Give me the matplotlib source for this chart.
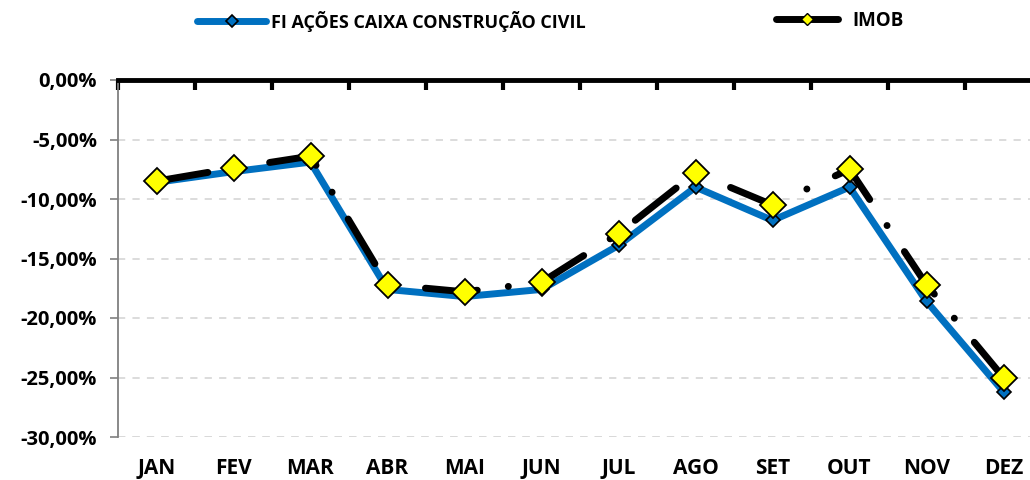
import matplotlib.pyplot as plt
from matplotlib.lines import Line2D
from matplotlib.ticker import FuncFormatter

meses = ['JAN', 'FEV', 'MAR', 'ABR', 'MAI', 'JUN', 'JUL', 'AGO', 'SET', 'OUT', 'NOV', 'DEZ']
fundo = [-8.6, -7.7, -6.9, -17.6, -18.2, -17.6, -13.9, -9.0, -11.8, -9.0, -18.6, -26.2]
imob = [-8.5, -7.4, -6.4, -17.2, -17.8, -17.0, -12.9, -7.8, -10.5, -7.5, -17.2, -25.0]

plt.rcParams['font.family'] = ['Open Sans', 'DejaVu Sans']
plt.rcParams['font.weight'] = 'bold'

fig = plt.figure(figsize=(10.3, 4.8), dpi=100)
ax = fig.add_axes([118 / 1030, 1 - 437 / 480, 924 / 1030, 357 / 480])

x = list(range(1, len(meses) + 1))
azul = '#0070C0'

ax.plot(x, fundo, color=azul, lw=5, marker='D', ms=7, mfc=azul, mec='black', mew=1.2,
        solid_joinstyle='round', zorder=3, clip_on=False)
ax.plot(x, imob, color='black', lw=5, dashes=[7.5, 4.5, 0.01, 4.5], dash_capstyle='round',
        zorder=4, clip_on=False)
ax.plot(x, imob, ls='none', marker='D', ms=13, mfc='#FFFF00', mec='black', mew=1.3,
        zorder=5, clip_on=False)

ax.set_xlim(0.5, 12.5)
ax.set_ylim(-30, 0)
ax.set_yticks([0, -5, -10, -15, -20, -25, -30])
ax.yaxis.set_major_formatter(FuncFormatter(lambda v, p: f'{v:.2f}%'.replace('.', ',')))
ax.tick_params(axis='y', length=6, width=1.2, color='#808080', labelsize=14.5, pad=9)

ax.set_xticks(x)
ax.set_xticklabels(meses)
ax.tick_params(axis='x', which='major', length=0, labelsize=15, pad=15)
ax.set_xticks([i + 0.5 for i in range(0, 13)], minor=True)
ax.tick_params(axis='x', which='minor', direction='in', length=7, width=3, color='black',
               bottom=False, top=True)

for lbl in ax.get_xticklabels() + ax.get_yticklabels():
    lbl.set_fontweight('bold')

ax.grid(axis='y', color='#D9D9D9', ls=(0, (4, 4)), lw=1.3)
ax.axhline(-30, color='#D9D9D9', ls=(0, (4, 4)), lw=1.3, zorder=0)

ax.spines['top'].set_linewidth(3.5)
ax.spines['top'].set_color('black')
ax.spines['left'].set_color('#808080')
ax.spines['left'].set_linewidth(1.3)
ax.spines['right'].set_visible(False)
ax.spines['bottom'].set_visible(False)

h1 = Line2D([], [], color=azul, lw=5, marker='D', ms=6, mfc=azul, mec='black', mew=1.2,
            solid_capstyle='round')
h2 = Line2D([], [], color='black', lw=5, marker='D', ms=6, mfc='#FFFF00', mec='black', mew=1.0,
            solid_capstyle='round')
fig.legend([h1], ['FI AÇÕES CAIXA CONSTRUÇÃO CIVIL'], loc='center left',
           bbox_to_anchor=(181 / 1030, 1 - 21 / 480), frameon=False, handlelength=3.8,
           handletextpad=0.3, prop={'weight': 'bold', 'size': 13})
fig.legend([h2], ['IMOB'], loc='center left',
           bbox_to_anchor=(759 / 1030, 1 - 21 / 480), frameon=False, handlelength=3.3,
           handletextpad=0.8, prop={'weight': 'bold', 'size': 13.5})

fig.savefig('out.png', dpi=100)
